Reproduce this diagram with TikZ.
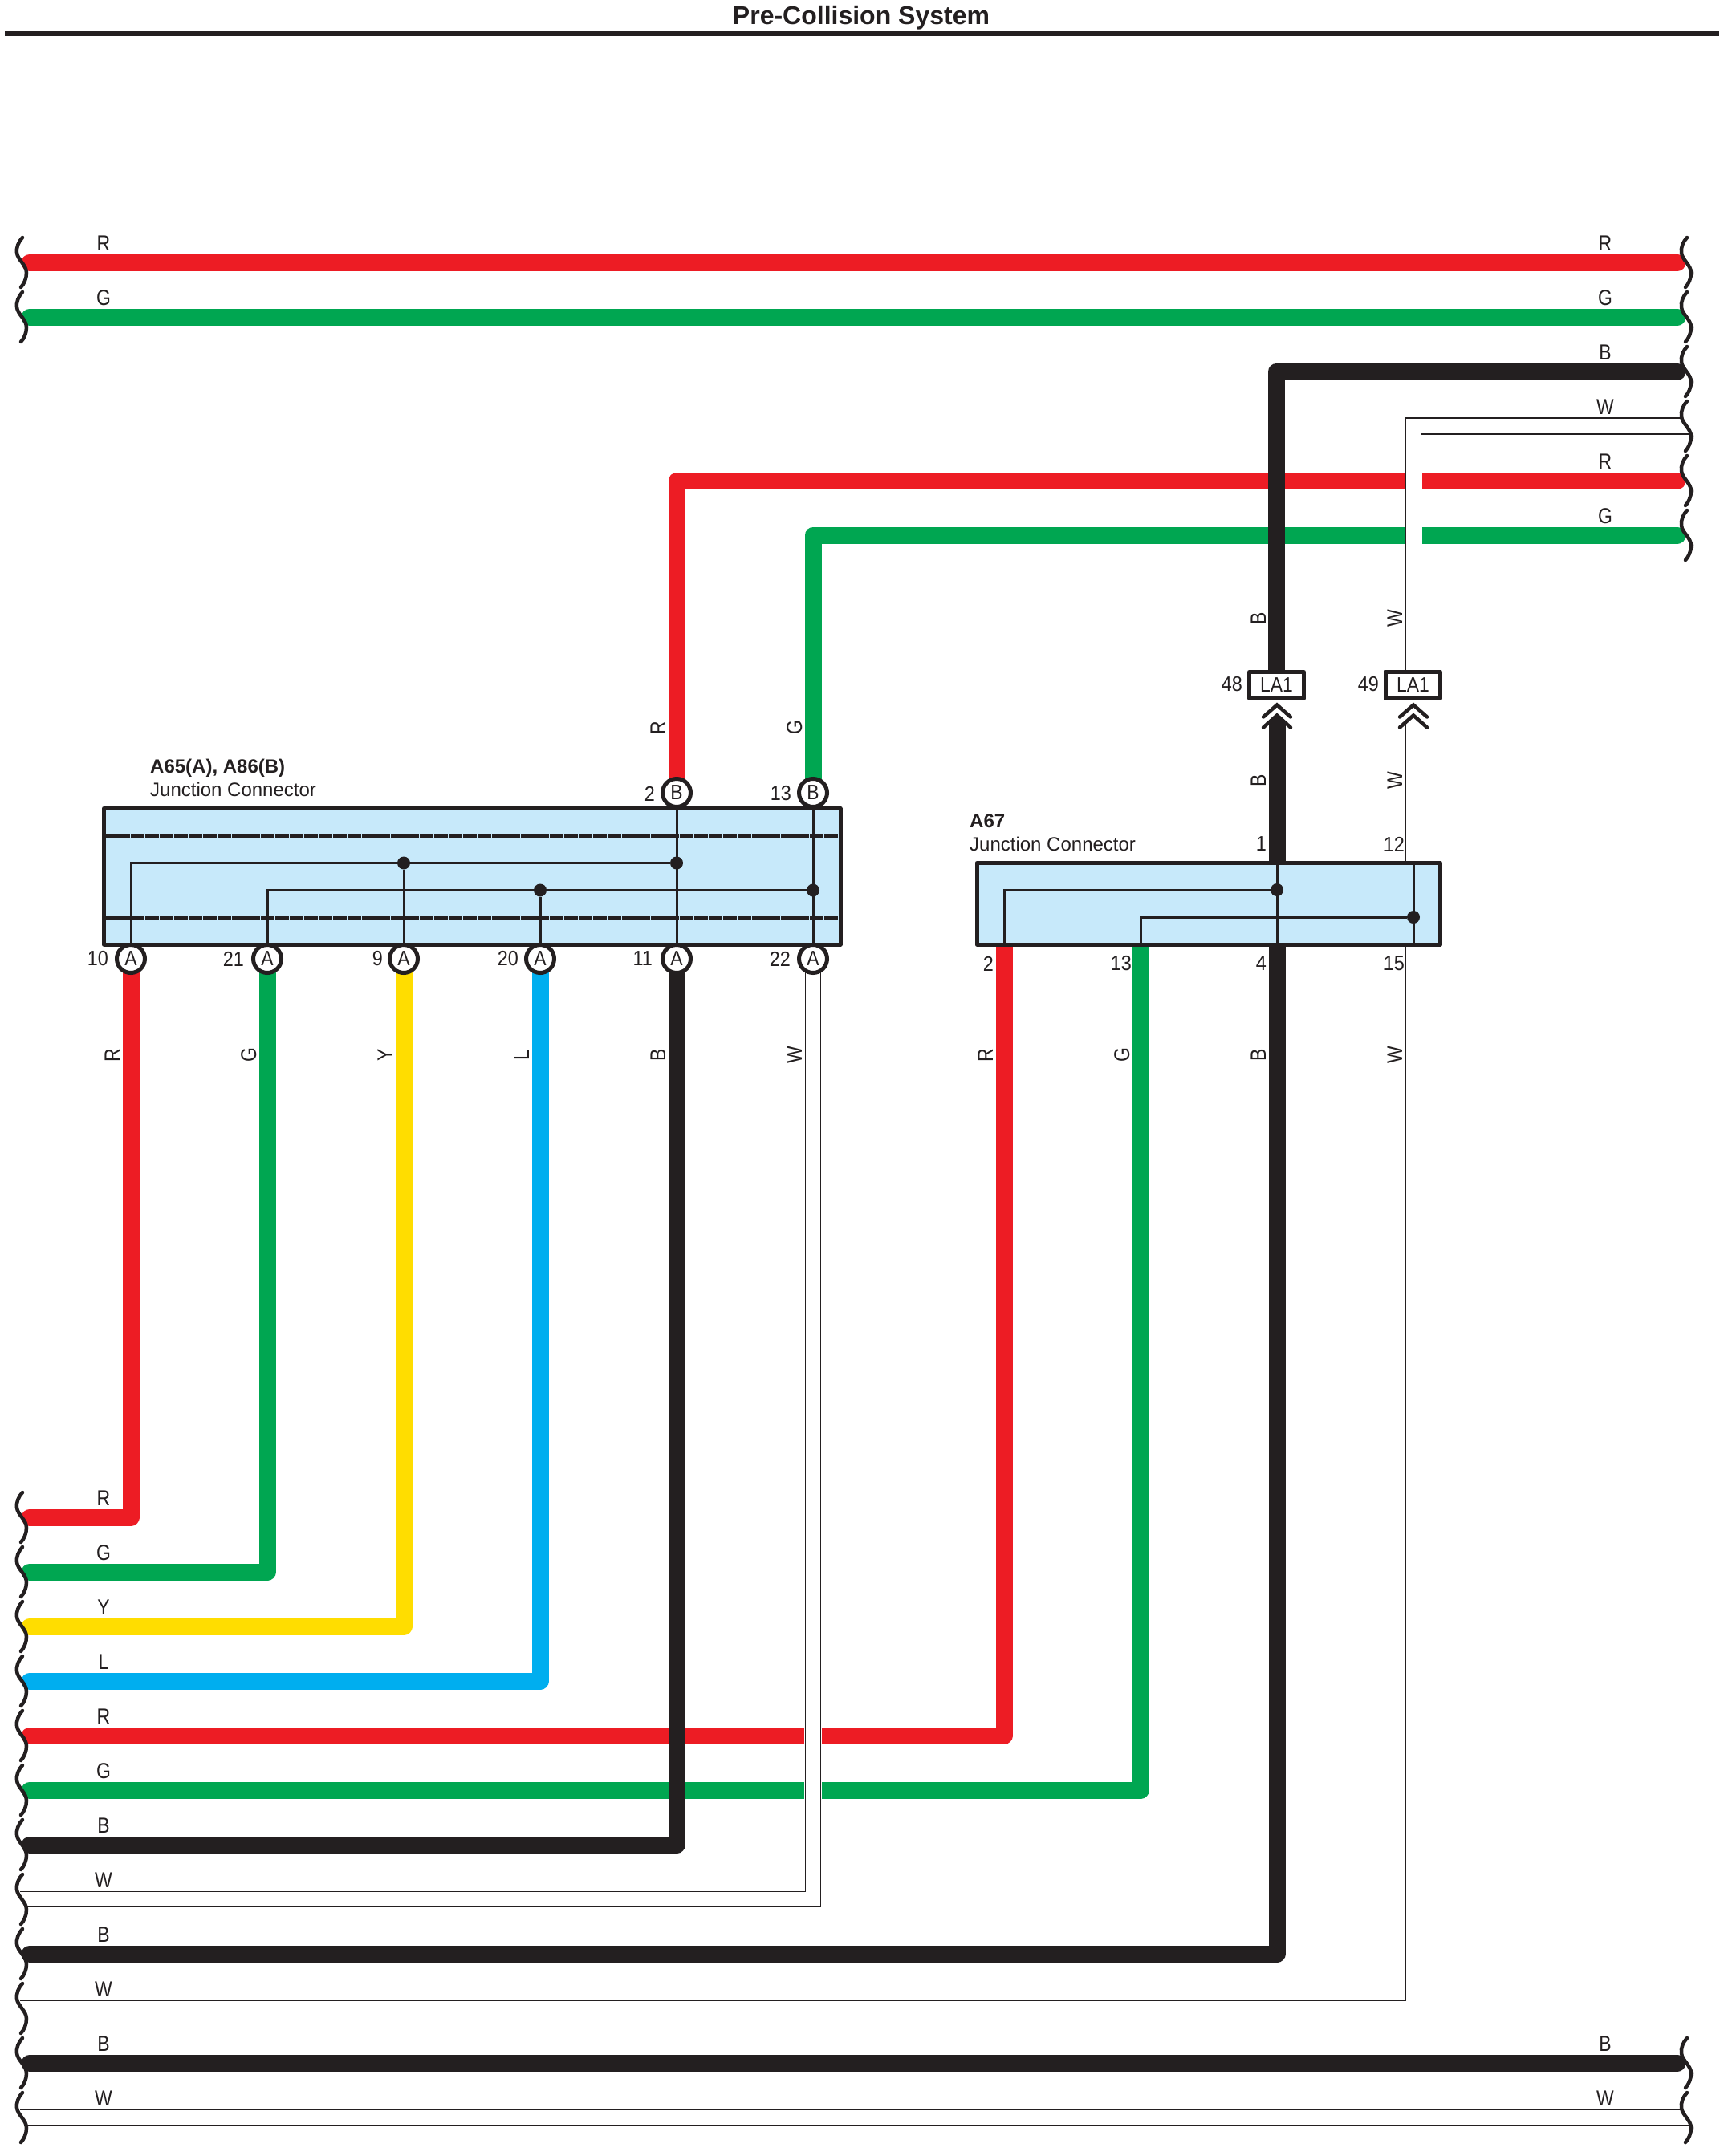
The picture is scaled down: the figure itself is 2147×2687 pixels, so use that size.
\documentclass[tikz,border=0pt]{standalone}
\usepackage{fontspec}
\usepackage{graphicx}
\setmainfont{Liberation Sans}
\usetikzlibrary{calc}
\definecolor{ink}{HTML}{231F20}
\definecolor{cred}{HTML}{ED1C24}
\definecolor{cgreen}{HTML}{00A651}
\definecolor{cyellow}{HTML}{FFDD00}
\definecolor{cblue}{HTML}{00AEEF}
\definecolor{cfill}{HTML}{C7E9FA}
\newcommand{\narrowtxt}[1]{\scalebox{.88}[1]{#1}}
\pgfdeclarelayer{bg}
\pgfsetlayers{bg,main}
\tikzset{
  x=1pt,y=-1pt,
  wire/.style={line width=21,line cap=round,line join=round},
  wred/.style={wire,cred},
  wgreen/.style={wire,cgreen},
  wyellow/.style={wire,cyellow},
  wblue/.style={wire,cblue},
  wblack/.style={wire,ink},
  wbg/.style={white,line width=22,line join=miter},
  wline/.style={ink,line width=1.5,line join=miter},
  jbox/.style={draw=ink,fill=cfill,line width=5,line join=round,inner sep=0,outer sep=0},
  labox/.style={draw=ink,fill=white,line width=5,line join=round,inner sep=0,outer sep=0,minimum width=68,minimum height=33,text=ink,font=\fontsize{26}{26}\selectfont},
  pin/.style={circle,draw=ink,fill=white,line width=5,minimum size=35,inner sep=0,outer sep=0,text=ink,font=\fontsize{26}{26}\selectfont},
  dot/.style={circle,fill=ink,minimum size=16,inner sep=0,outer sep=0},
  inner/.style={ink,line width=3,line join=miter},
  dashline/.style={ink,line width=5,dash pattern=on 17 off 1},
  squig/.style={ink,line width=4.5,line cap=round},
  chev/.style={ink,line width=4.5,line cap=round,line join=miter},
  num/.style={anchor=east,inner sep=0,text=ink,xscale=.9,font=\fontsize{26}{26}\selectfont},
  wlabel/.style={anchor=base,inner sep=0,text=ink,xscale=.85,font=\fontsize{27}{27}\selectfont},
  vlabel/.style={anchor=base,inner sep=0,text=ink,rotate=90,xscale=.85,font=\fontsize{27}{27}\selectfont},
  head/.style={anchor=base west,inner sep=0,text=ink,font=\fontsize{24}{24}\selectfont\bfseries},
  sub/.style={anchor=base west,inner sep=0,text=ink,font=\fontsize{24}{24}\selectfont},
}
\begin{document}
\begin{tikzpicture}
\useasboundingbox (0,0) rectangle (2147,2687);
% row ends
\foreach \k in {0,...,34}{
  \pgfmathsetmacro{\yy}{327+68*\k}
  \coordinate (L\k) at (37,\yy);
  \coordinate (R\k) at (2090,\yy);
}
% title
\node[anchor=base,inner sep=0,text=ink,font=\fontsize{32}{32}\selectfont\bfseries] (title) at (1073,31) {Pre-Collision System};
\coordinate (ruleL) at (6,42);
\coordinate (ruleR) at (2142,42);
\draw[ink,line width=6] (ruleL) -- (ruleR);

% junction boxes
\node[jbox,minimum width=917.5,minimum height=169.5] (boxA) at (588.25,1092.25) {};
\node[jbox,minimum width=577.5,minimum height=101.5] (boxC) at (1505.75,1126.25) {};
\coordinate (dashA1) at (127,1041.5);
\coordinate (dashA2) at (1045,1041.5);
\coordinate (dashB1) at (127,1143.5);
\coordinate (dashB2) at (1045,1143.5);
\draw[dashline] (dashA1) -- (dashA2);
\draw[dashline] (dashB1) -- (dashB2);

% pins of A65/A86
\node[pin] (p10) at (163,1195) {\narrowtxt{A}};
\node[pin] (p21) at (333,1195) {\narrowtxt{A}};
\node[pin] (p9)  at (503,1195) {\narrowtxt{A}};
\node[pin] (p20) at (673,1195) {\narrowtxt{A}};
\node[pin] (p11) at (843,1195) {\narrowtxt{A}};
\node[pin] (p22) at (1013,1195) {\narrowtxt{A}};
\node[pin] (p2)  at (843,988) {\narrowtxt{B}};
\node[pin] (p13) at (1013,988) {\narrowtxt{B}};
% dots
\node[dot] (d1) at (503,1075.5) {};
\node[dot] (d2) at (843,1075.5) {};
\node[dot] (d3) at (673,1109.5) {};
\node[dot] (d4) at (1013,1109.5) {};
\node[dot] (d5) at (1591,1109) {};
\node[dot] (d6) at (1761,1143) {};
% inner wiring A65
\draw[inner] (p2) -- (p11);
\draw[inner] (p13) -- (p22);
\draw[inner] (p10) |- (d2);
\draw[inner] (p21) |- (d4);
\draw[inner] (p9) -- (d1);
\draw[inner] (p20) -- (d3);
% A67 terminals
\coordinate (c2) at (1251,1177);
\coordinate (c13) at (1421,1177);
\coordinate (c4) at (1591,1177);
\coordinate (c15) at (1761,1177);
\coordinate (c1) at (1591,1075.5);
\coordinate (c12) at (1761,1075.5);
\draw[inner] (c1) -- (c4);
\draw[inner] (c12) -- (c15);
\draw[inner] (c2) |- (d5);
\draw[inner] (c13) |- (d6);

% LA1 boxes
\node[labox] (la48) at (1590.5,854) {\narrowtxt{LA1}};
\node[labox] (la49) at (1760.5,854) {\narrowtxt{LA1}};
% chevrons
\foreach \cx/\nm in {1591/a,1761/b}{
  \coordinate (chev\nm) at (\cx,878.5);
  \draw[chev] ($(chev\nm)+(-17,15)$) -- (chev\nm) -- ($(chev\nm)+(17,15)$);
  \draw[chev] ($(chev\nm)+(-17,28)$) -- ($(chev\nm)+(0,13)$) -- ($(chev\nm)+(17,28)$);
}
\coordinate (chevwire) at (1591,904);

% wires (below the boxes and pins)
\begin{pgfonlayer}{bg}
\fill[white] (0,0) rectangle (2147,2687);
\draw[wred] (L0) -- (R0);
\draw[wgreen] (L1) -- (R1);
\draw[wred] (R4) -| (p2);
\draw[wgreen] (R5) -| (p13);
\draw[wred] (L23) -| (p10);
\draw[wgreen] (L24) -| (p21);
\draw[wyellow] (L25) -| (p9);
\draw[wblue] (L26) -| (p20);
\draw[wred] (L27) -| (c2);
\draw[wgreen] (L28) -| (c13);
% white wires
\coordinate (w3a) at (2095,521);
\coordinate (w3b) at (2105,541);
\draw[wbg] (R3) -| (la49);
\draw[wline] (w3a) -| ($(la49.north)+(-9.5,0)$);
\draw[wline] (w3b) -| ($(la49.north)+(10,0)$);
\coordinate (w30a) at (25,2357.5);
\coordinate (w30b) at (34,2376.5);
\draw[wbg] (L30) -| (p22);
\draw[wline] (w30a) -| ($(p22.center)+(-9.5,0)$);
\draw[wline] (w30b) -| ($(p22.center)+(9.5,0)$);
\coordinate (w32a) at (25,2493.5);
\coordinate (w32b) at (34,2512.5);
\coordinate (w32c) at (1751,902);
\coordinate (w32d) at (1770.5,902);
\draw[wbg] (L32) -| (chevb);
\draw[wline] (w32a) -| (w32c);
\draw[wline] (w32b) -| (w32d);
\coordinate (w34a) at (25,2629.5);
\coordinate (w34b) at (34,2648.5);
\coordinate (w34c) at (2095,2629.5);
\coordinate (w34d) at (2105,2648.5);
\draw[wline] (w34a) -- (w34c);
\draw[wline] (w34b) -- (w34d);
% black wires
\draw[wblack] (R2) -| (la48);
\draw[wblack] (chevwire) -- (c1);
\draw[wblack] (L29) -| (p11);
\draw[wblack] (L31) -| (c4);
\draw[wblack] (L33) -- (R33);
\end{pgfonlayer}

% break marks
\foreach \k in {0,1,23,24,...,34}{
  \pgfmathsetmacro{\yy}{327+68*\k}
  \draw[squig,shift={(0,\yy)}] (28,-31) .. controls (23,-26) and (20,-18) .. (21,-12) .. controls (22,-3) and (33,3) .. (33,13) .. controls (33,20) and (30,27) .. (26,31);
}
\foreach \k in {0,...,5,33,34}{
  \pgfmathsetmacro{\yy}{327+68*\k}
  \draw[squig,shift={(2074,\yy)}] (28,-31) .. controls (23,-26) and (20,-18) .. (21,-12) .. controls (22,-3) and (33,3) .. (33,13) .. controls (33,20) and (30,27) .. (26,31);
}

% colour labels on rows, left
\foreach \k/\t in {0/R,1/G,23/R,24/G,25/Y,26/L,27/R,28/G,29/B,30/W,31/B,32/W,33/B,34/W}{
  \pgfmathsetmacro{\yy}{327+68*\k-15}
  \node[wlabel] (ll\k) at (129,\yy) {\t};
}
% colour labels on rows, right
\foreach \k/\t in {0/R,1/G,2/B,3/W,4/R,5/G,33/B,34/W}{
  \pgfmathsetmacro{\yy}{327+68*\k-15}
  \node[wlabel] (rl\k) at (2000,\yy) {\t};
}
% colour labels on vertical wires
\node[vlabel] (v1)  at (149,1315) {R};
\node[vlabel] (v2)  at (319,1315) {G};
\node[vlabel] (v3)  at (489,1315) {Y};
\node[vlabel] (v4)  at (659,1315) {L};
\node[vlabel] (v5)  at (829,1315) {B};
\node[vlabel] (v6)  at (999,1315) {W};
\node[vlabel] (v7)  at (1237,1315) {R};
\node[vlabel] (v8)  at (1407,1315) {G};
\node[vlabel] (v9)  at (1577,1315) {B};
\node[vlabel] (v10) at (1747,1315) {W};
\node[vlabel] (v11) at (829,907) {R};
\node[vlabel] (v12) at (999,907) {G};
\node[vlabel] (v13) at (1577,771) {B};
\node[vlabel] (v14) at (1747,771) {W};
\node[vlabel] (v15) at (1577,973) {B};
\node[vlabel] (v16) at (1747,973) {W};

% pin numbers
\node[num] (n10) at (135,1195) {10};
\node[num] (n21) at (304,1195) {21};
\node[num] (n9)  at (477,1195) {9};
\node[num] (n20) at (646,1195) {20};
\node[num] (n11) at (813,1195) {11};
\node[num] (n22) at (985,1195) {22};
\node[num] (n2)  at (816,989) {2};
\node[num] (n13) at (986,989) {13};
\node[num] (m1)  at (1578,1052) {1};
\node[num] (m12) at (1750,1052) {12};
\node[num] (m2)  at (1238,1201) {2};
\node[num] (m13) at (1410,1201) {13};
\node[num] (m4)  at (1578,1201) {4};
\node[num] (m15) at (1750,1201) {15};
\node[num] (m48) at (1548,853) {48};
\node[num] (m49) at (1718,853) {49};

% connector names
\node[head] (hA) at (187,963) {A65(A), A86(B)};
\node[sub] (sA) at (187,992) {Junction Connector};
\node[head] (hC) at (1208,1031) {A67};
\node[sub] (sC) at (1208,1060) {Junction Connector};
\end{tikzpicture}
\end{document}
